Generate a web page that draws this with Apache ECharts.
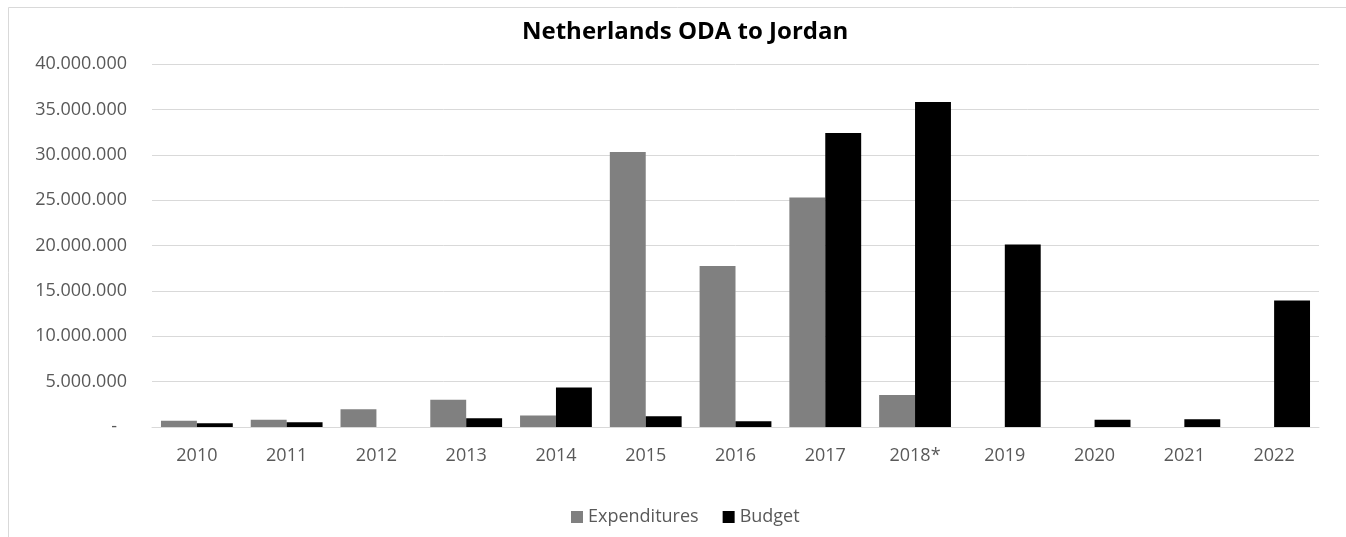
<!DOCTYPE html>
<html>
<head>
<meta charset="utf-8">
<script src="https://cdn.jsdelivr.net/npm/echarts@6/dist/echarts.min.js"></script>
<style>
  html, body { margin: 0; padding: 0; background: #fff; }
  #main { width: 1346px; height: 537px; }
</style>
</head>
<body>
<div id="main"></div>
<script>
// chart data
const years = ['2010', '2011', '2012', '2013', '2014', '2015', '2016', '2017', '2018*', '2019', '2020', '2021', '2022'];
const expenditures = [700000, 810000, 1950000, 3000000, 1260000, 30300000, 17750000, 25300000, 3520000, null, null, null, null];
const budget = [410000, 520000, null, 960000, 4340000, 1180000, 630000, 32400000, 35800000, 20100000, 810000, 850000, 13950000];
const yTicks = { min: 0, max: 40000000, interval: 5000000 };

const font = '"Open Sans", "Liberation Sans", sans-serif';

const fmt = (v) => {
  if (v === 0) return '{dash|-}';
  return String(v).replace(/\B(?=(\d{3})+(?!\d))/g, '.');
};

const chartDom = document.getElementById('main');
const myChart = echarts.init(chartDom, null, { renderer: 'canvas' });

const option = {
  animation: false,
  backgroundColor: '#fff',
  textStyle: { fontFamily: font },
  title: {
    text: 'Netherlands ODA to Jordan',
    left: 517,
    top: 15,
    textStyle: { fontFamily: font, fontSize: 24, fontWeight: 'bold', color: '#000' }
  },
  legend: {
    bottom: 6,
    left: 566,
    itemWidth: 12,
    itemHeight: 12,
    itemGap: 24,
    icon: 'rect',
    textStyle: { fontFamily: font, fontSize: 18, color: '#595959' },
    data: ['Expenditures', 'Budget']
  },
  grid: { left: 152, right: 27, top: 64, bottom: 110, containLabel: false },
  xAxis: {
    type: 'category',
    data: years,
    axisLine: { lineStyle: { color: '#d9d9d9', width: 1 } },
    axisTick: { show: false },
    axisLabel: { fontFamily: font, fontSize: 18, color: '#595959', margin: 20 }
  },
  yAxis: {
    type: 'value',
    min: yTicks.min,
    max: yTicks.max,
    interval: yTicks.interval,
    axisLine: { show: false },
    axisTick: { show: false },
    splitLine: { lineStyle: { color: '#d9d9d9', width: 1 } },
    axisLabel: {
      fontFamily: font, fontSize: 18, color: '#595959', margin: 25,
      formatter: fmt,
      rich: { dash: { fontFamily: font, fontSize: 18, color: '#595959', padding: [0, 10, 0, 0] } }
    }
  },
  series: [
    {
      name: 'Expenditures',
      type: 'bar',
      data: expenditures,
      barGap: '0%',
      barCategoryGap: '20%',
      itemStyle: { color: '#808080' }
    },
    {
      name: 'Budget',
      type: 'bar',
      data: budget,
      barGap: '0%',
      barCategoryGap: '20%',
      itemStyle: { color: '#000000' }
    }
  ],
  graphic: [
    {
      type: 'rect',
      silent: true,
      z: -1,
      shape: { x: 8.5, y: 7.5, width: 1400, height: 600 },
      style: { fill: 'none', stroke: '#d9d9d9', lineWidth: 1 }
    }
  ]
};

option && myChart.setOption(option);
</script>
</body>
</html>
